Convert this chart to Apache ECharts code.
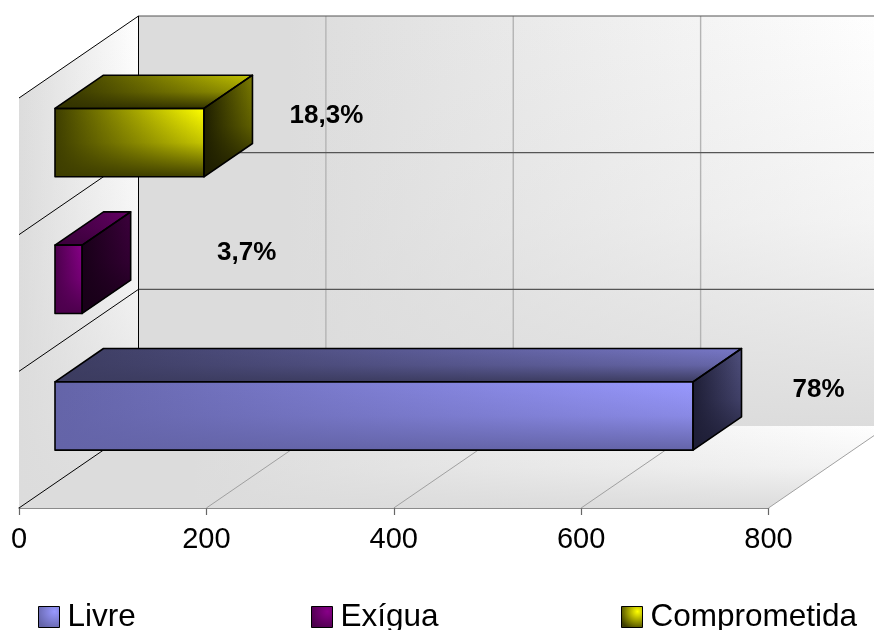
<!DOCTYPE html>
<html>
<head>
<meta charset="utf-8">
<script src="https://cdn.jsdelivr.net/npm/echarts@6/dist/echarts.min.js"></script>
<style>html,body{margin:0;padding:0;background:#fff}#chart{width:874px;height:630px}</style>
</head>
<body>
<div id="chart"></div>
<script>
// Land classes and their values
const categories = ['Livre', 'Exígua', 'Comprometida'];
const livreValues = [681];
const exiguaValues = [29];
const comprometidaValues = [159];
const percentLabels = ['78%', '3,7%', '18,3%'];
const valueTicks = [0, 200, 400, 600, 800];
const categorySteps = [0, 1, 2, 3];

// Oblique projection of the chart box
const BOX_DX = 119.5, BOX_DY = -82;
const BAR_NEAR = 36 / 119.5, BAR_FAR = 84.5 / 119.5;
const FONT = '"Liberation Sans", Arial, sans-serif';

// Face shades per class: [bright, dark] for front, top and side
const shades = {
  Livre: { front: ['#9999ff', '#6464a8'], top: ['#7878c8', '#3c3c60'], side: ['#50507e', '#1e1e36'] },
  'Exígua': { front: ['#880088', '#4c004c'], top: ['#660066', '#3e003e'], side: ['#3c003c', '#180018'] },
  Comprometida: { front: ['#ffff00', '#3e3e00'], top: ['#c4c400', '#333300'], side: ['#7c7c00', '#1e1e00'] }
};
// Label offset from the far end of each bar, in pixels
const labelOffsets = { Livre: [77, -26], 'Exígua': [116, -26], Comprometida: [74, -27] };

const withAlpha = (hex, a) => {
  const n = parseInt(hex.slice(1), 16);
  return 'rgba(' + (n >> 16) + ',' + ((n >> 8) & 255) + ',' + (n & 255) + ',' + a + ')';
};

// A face lit from its upper right corner: a horizontal ramp with a vertical shade laid over it
function litFace(points, bright, dark, start) {
  const s = start || 0;
  return [
    {
      type: 'polygon', shape: { points },
      style: {
        fill: {
          type: 'linear', x: 0, y: 0, x2: 1, y2: 0,
          colorStops: [{ offset: 0, color: dark }, { offset: s, color: dark }, { offset: 1, color: bright }]
        }
      }
    },
    {
      type: 'polygon', shape: { points },
      style: {
        fill: {
          type: 'linear', x: 0, y: 0, x2: 0, y2: 1,
          colorStops: [
            { offset: 0, color: withAlpha(dark, 0) },
            { offset: 0.5, color: withAlpha(dark, 0.3) },
            { offset: 1, color: withAlpha(dark, 1) }
          ]
        }
      }
    }
  ];
}
const outline = (points, color, width) => ({
  type: 'polygon', shape: { points }, style: { fill: 'none', stroke: color, lineWidth: width, lineJoin: 'round' }
});
const seg = (a, b, color, width) => ({
  type: 'line', shape: { x1: a[0], y1: a[1], x2: b[0], y2: b[1] }, style: { stroke: color, lineWidth: width }
});

function renderBox(params, api) {
  const band = api.size([0, 1])[1];
  const bottom = api.coord([0, 0])[1] + band / 2;
  const atX = v => api.coord([v, 0])[0];
  const yStep = i => bottom - i * band;
  const x0 = atX(0), x1 = atX(valueTicks[valueTicks.length - 1]);
  const top = yStep(categorySteps[categorySteps.length - 1]);
  const back = p => [p[0] + BOX_DX, p[1] + BOX_DY];
  const gray = '#dcdcdc', white = '#ffffff';

  const wall = [[x0, top], back([x0, top]), back([x0, bottom]), [x0, bottom]];
  const rear = [back([x0, top]), back([x1, top]), back([x1, bottom]), back([x0, bottom])];
  const floor = [[x0, bottom], [x1, bottom], back([x1, bottom]), back([x0, bottom])];
  let kids = [
    ...litFace(rear, white, gray, 0.2),
    ...litFace(wall, white, gray),
    ...litFace(floor, white, gray, 0.2)
  ];
  // Grid on the rear wall and the floor
  valueTicks.forEach(v => {
    const x = atX(v);
    if (v > 0) {
      kids.push(seg(back([x, top]), back([x, bottom]), '#b4b4b4', 1.4));
      kids.push(seg([x, bottom], back([x, bottom]), '#a0a0a0', 1));
    }
  });
  categorySteps.forEach(i => {
    const y = yStep(i);
    if (i > 0) kids.push(seg(back([x0, y]), back([x1, y]), '#555555', 1.2));
    if (i > 0 && i < 3) kids.push(seg([x0, y], back([x0, y]), '#000000', 1));
  });
  kids.push(seg([x0, top], back([x0, top]), '#000000', 1));
  kids.push(seg(back([x0, top]), back([x0, bottom]), '#000000', 1));
  kids.push(seg([x0, bottom], back([x0, bottom]), '#000000', 1));
  return { type: 'group', children: kids };
}

function renderBar(name, label) {
  return function (params, api) {
    const value = api.value(0), cat = api.value(1);
    const band = api.size([0, 1])[1];
    const zero = api.coord([0, cat]), end = api.coord([value, cat]);
    const half = band * 0.25;
    const place = (x, y, depth) => [x + BOX_DX * depth, y + BOX_DY * depth + 1];
    const fl = place(zero[0], zero[1] - half, BAR_NEAR);
    const fr = place(end[0], end[1] - half, BAR_NEAR);
    const br = place(end[0], end[1] + half, BAR_NEAR);
    const bl = place(zero[0], zero[1] + half, BAR_NEAR);
    const tl = place(zero[0], zero[1] - half, BAR_FAR);
    const tr = place(end[0], end[1] - half, BAR_FAR);
    const sr = place(end[0], end[1] + half, BAR_FAR);
    const s = shades[name];
    const front = [fl, fr, br, bl], upper = [fl, tl, tr, fr], side = [fr, tr, sr, br];
    const off = labelOffsets[name];
    return {
      type: 'group',
      children: [
        ...litFace(upper, s.top[0], s.top[1]),
        ...litFace(side, s.side[0], s.side[1]),
        ...litFace(front, s.front[0], s.front[1]),
        outline(upper, '#000000', 1.6),
        outline(side, '#000000', 1.6),
        outline(front, '#000000', 1.6),
        {
          type: 'text',
          style: {
            text: label, x: tr[0] + off[0], y: fr[1] + off[1] + half, align: 'center', verticalAlign: 'middle',
            font: 'bold 26px ' + FONT, fill: '#000000'
          }
        }
      ]
    };
  };
}

function barSeries(index, values) {
  const name = categories[index];
  return {
    name, type: 'custom', xAxisIndex: 0, yAxisIndex: 0, clip: false, silent: true, z: 3,
    encode: { x: 0, y: 1 },
    itemStyle: { color: shades[name].front[0] },
    data: values.map(v => [v, index]),
    renderItem: renderBar(name, percentLabels[index])
  };
}

function legendAt(name, left) {
  const s = shades[name].front;
  return {
    left, top: 596, icon: 'rect', itemWidth: 21, itemHeight: 21, selectedMode: false,
    textStyle: { fontFamily: FONT, fontSize: 31.5, color: '#000000', padding: [0, 0, 0, 3] },
    data: [{
      name,
      itemStyle: {
        borderColor: '#000000', borderWidth: 1,
        color: { type: 'radial', x: 0.75, y: 0.25, r: 0.85, colorStops: [{ offset: 0, color: s[0] }, { offset: 1, color: s[1] }] }
      }
    }]
  };
}

const chart = echarts.init(document.getElementById('chart'), null, { renderer: 'canvas' });
chart.setOption({
  animation: false,
  backgroundColor: '#ffffff',
  grid: { left: 19, right: 105.5, top: 98, bottom: 122 },
  xAxis: {
    type: 'value',
    min: valueTicks[0], max: valueTicks[valueTicks.length - 1], interval: valueTicks[1] - valueTicks[0],
    splitLine: { show: false },
    axisLine: { show: true, lineStyle: { color: '#666666', width: 1.5 } },
    axisTick: { show: true, length: 7, lineStyle: { color: '#666666', width: 1.2 } },
    axisLabel: { show: true, color: '#000000', fontFamily: FONT, fontSize: 29, margin: 17, hideOverlap: false, showMinLabel: true, showMaxLabel: true }
  },
  yAxis: {
    type: 'category', data: categories,
    axisLine: { show: true, lineStyle: { color: '#000000', width: 1 } },
    axisTick: { show: false }, axisLabel: { show: false }, splitLine: { show: false }
  },
  legend: [legendAt('Livre', 33), legendAt('Exígua', 306), legendAt('Comprometida', 616)],
  series: [
    { name: 'Plano', type: 'custom', clip: false, silent: true, z: 1, encode: { x: 0, y: 1 }, data: [[0, 0]], renderItem: renderBox },
    barSeries(0, livreValues),
    barSeries(1, exiguaValues),
    barSeries(2, comprometidaValues)
  ]
});
</script>
</body>
</html>
